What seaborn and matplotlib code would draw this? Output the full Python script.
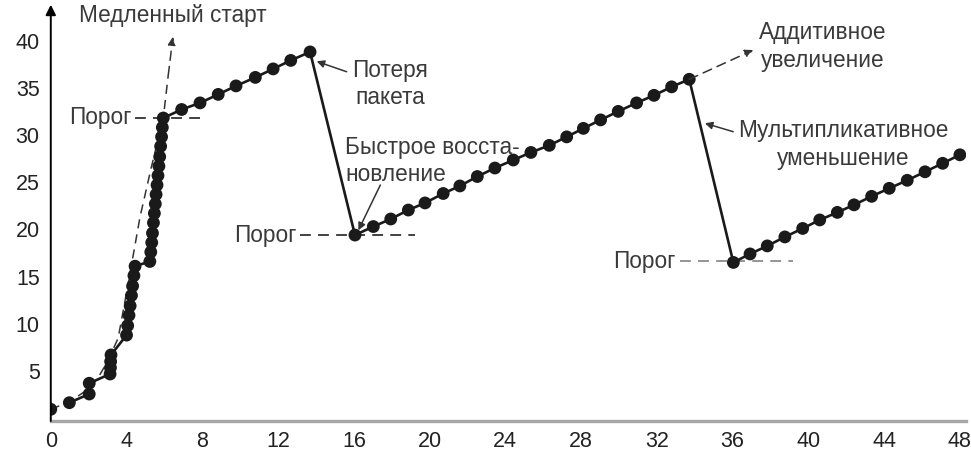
import matplotlib
matplotlib.use('Agg')
import matplotlib.pyplot as plt
import seaborn as sns

# окно перегрузки TCP Reno: время передачи (RTT) и размер окна
SLOW_T = [0.00, 0.98, 2.03, 2.03, 3.13, 3.15, 3.16, 3.18,
          4.00, 4.06, 4.13, 4.19, 4.26, 4.32, 4.39, 4.45,
          5.23, 5.28, 5.33, 5.37, 5.42, 5.47, 5.52, 5.56,
          5.61, 5.66, 5.71, 5.75, 5.80, 5.85, 5.89, 5.94]
SLOW_W = [0.94, 1.64, 2.56, 3.70, 4.68, 5.35, 6.00, 6.70,
          8.8, 9.8, 10.9, 11.9, 13.0, 14.0, 15.1, 16.1,
          16.6, 17.6, 18.6, 19.6, 20.7, 21.7, 22.7, 23.7,
          24.7, 25.7, 26.7, 27.7, 28.8, 29.8, 30.8, 31.8]

AI1_T = [6.91, 7.88, 8.84, 9.78, 10.80, 11.74, 12.67, 13.69]
AI1_W = [32.7, 33.4, 34.3, 35.2, 36.1, 37.0, 37.9, 38.8]

AI2_T = [16.06, 17.03, 17.95, 18.88, 19.76, 20.72, 21.60, 22.52, 23.45, 24.42,
         25.35, 26.32, 27.24, 28.12, 29.03, 29.96, 30.93, 31.85, 32.78, 33.71]
AI2_W = [19.4, 20.3, 21.1, 22.05, 22.8, 23.8, 24.6, 25.6, 26.5, 27.35,
         28.15, 28.9, 29.8, 30.7, 31.6, 32.5, 33.4, 34.2, 35.1, 35.9]

AI3_T = [36.04, 36.92, 37.83, 38.76, 39.70, 40.60, 41.53, 42.41, 43.34,
         44.27, 45.22, 46.16, 47.09, 48.00]
AI3_W = [16.5, 17.4, 18.25, 19.2, 20.1, 21.0, 21.8, 22.6, 23.5,
         24.35, 25.2, 26.1, 27.0, 27.9]

# пунктир экспоненциального роста (медленный старт)
GUIDE_T = [0.0, 1.0, 2.0, 2.5, 3.0, 3.56, 4.0, 4.71, 5.3, 5.94, 6.2]
GUIDE_W = [0.94, 1.75, 3.1, 4.3, 6.0, 8.5, 13.3, 21.3, 26.5, 31.8, 36.3]
GUIDE_TIP = (6.45, 40.4)

# пороги: (уровень, начало, конец, цвет)
THRESHOLDS = [(31.8, 4.45, 8.05, '#333333'),
              (19.4, 13.15, 19.25, '#333333'),
              (16.6, 33.22, 39.2, '#8c8c8c')]

X_MAJOR = list(range(0, 49, 4))
X_MINOR = list(range(2, 49, 4))
Y_TICKS = list(range(5, 41, 5))

T_ALL = SLOW_T + AI1_T + AI2_T + AI3_T
W_ALL = SLOW_W + AI1_W + AI2_W + AI3_W

sns.set_theme(style='white')
plt.rcParams['font.family'] = ['Liberation Sans', 'DejaVu Sans']

TXT = '#3a3a3a'
FS = 16.3

fig = plt.figure(figsize=(9.71, 4.51), dpi=100)
ax = fig.add_axes([0.0523, 0.0665, 0.9421, 0.9335])

# пунктир медленного старта со стрелкой
ax.plot(GUIDE_T, GUIDE_W, color='#333333', lw=1.1, ls=(0, (6, 4)), zorder=1)
ax.annotate('', xy=GUIDE_TIP, xytext=(GUIDE_T[-1], GUIDE_W[-1]),
            arrowprops=dict(arrowstyle='-|>', color='#333333', lw=1.1,
                            ls=(0, (6, 4)), mutation_scale=12, shrinkA=0, shrinkB=0))

for level, x0, x1, col in THRESHOLDS:
    ax.plot([x0, x1], [level, level], color=col, lw=1.3, ls=(0, (6, 4)), zorder=1)

# окно перегрузки
sns.lineplot(x=T_ALL[1:], y=W_ALL[1:], sort=False, estimator=None,
             color='#1a1a1a', lw=1.9, ax=ax, zorder=2)
sns.scatterplot(x=T_ALL, y=W_ALL, s=85, color='#1a1a1a', edgecolor='none',
                ax=ax, zorder=3)

# аддитивное увеличение — пунктирная стрелка
ax.annotate('', xy=(37.09, 39.0), xytext=(AI2_T[-1], AI2_W[-1]),
            arrowprops=dict(arrowstyle='-|>', color='#333333', lw=1.1,
                            ls=(0, (6, 4)), mutation_scale=12, shrinkA=0, shrinkB=0))

arrow = dict(arrowstyle='-|>', color='#333333', lw=1.1, mutation_scale=11,
             shrinkA=0, shrinkB=0)
ax.annotate('', xy=(14.04, 37.8), xytext=(15.62, 36.7), arrowprops=arrow)
ax.annotate('', xy=(16.24, 19.9), xytext=(17.4, 24.7), arrowprops=arrow)
ax.annotate('', xy=(34.54, 31.24), xytext=(36.03, 30.35), arrowprops=arrow)

ax.text(6.45, 42.7, 'Медленный старт', ha='center', va='center', fontsize=FS, color=TXT)
ax.text(4.27, 31.8, 'Порог', ha='right', va='center', fontsize=FS, color=TXT)
ax.text(12.98, 19.4, 'Порог', ha='right', va='center', fontsize=FS, color=TXT)
ax.text(32.96, 16.6, 'Порог', ha='right', va='center', fontsize=FS, color=TXT)
ax.text(17.9, 35.4, 'Потеря\nпакета', ha='center', va='center', fontsize=FS,
        color=TXT, linespacing=1.2)
ax.text(15.55, 27.25, 'Быстрое восста-\nновление', ha='left', va='center',
        fontsize=FS, color=TXT, linespacing=1.25)
ax.text(40.77, 39.35, 'Аддитивное\nувеличение', ha='center', va='center',
        fontsize=FS, color=TXT, linespacing=1.25)
ax.text(41.83, 29.0, 'Мультипликативное\nуменьшение', ha='center', va='center',
        fontsize=FS, color=TXT, linespacing=1.25)

ax.set_xlim(0, 48.3)
ax.set_ylim(-0.3, 44.3)
ax.set_xticks(X_MAJOR)
ax.set_xticks(X_MINOR, minor=True)
ax.set_yticks(Y_TICKS)
ax.tick_params(axis='x', which='both', direction='in', length=9.5, width=1.2,
               color='#333333', pad=7, labelsize=15.5, labelcolor='#222222')
ax.tick_params(axis='y', direction='in', length=10, width=1.2,
               color='#222222', pad=8, labelsize=15.5, labelcolor='#222222')
ax.set_xlabel('')
ax.set_ylabel('')

for side in ['top', 'right', 'left']:
    ax.spines[side].set_visible(False)
ax.spines['bottom'].set_color('#a6a6a6')
ax.spines['bottom'].set_linewidth(2.4)

# ось Y со стрелкой
ax.annotate('', xy=(0, 43.8), xytext=(0, -0.3), annotation_clip=False,
            arrowprops=dict(arrowstyle='-|>', color='black', lw=1.4,
                            mutation_scale=15, shrinkA=0, shrinkB=0))

fig.savefig('out.png', dpi=100)
